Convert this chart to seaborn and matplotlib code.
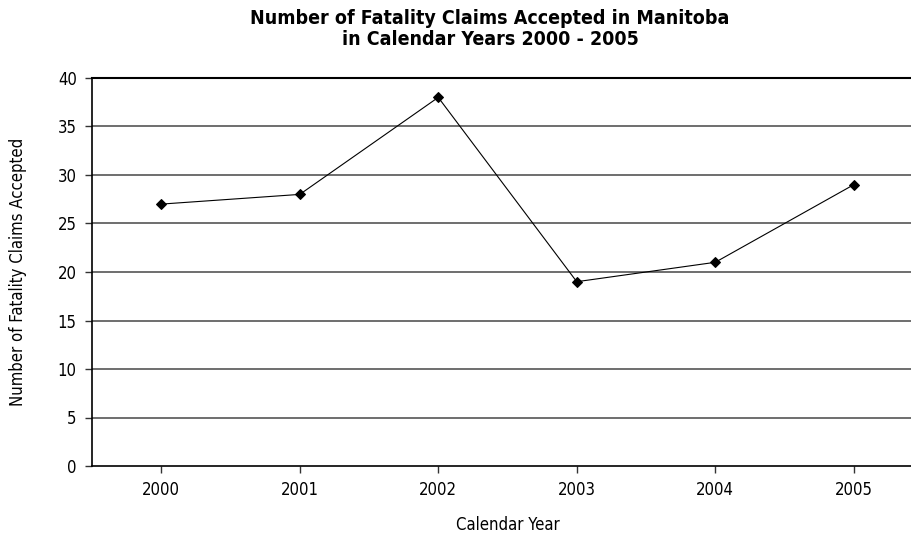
import seaborn as sns
import pandas as pd
import matplotlib.pyplot as plt

# data
years = ["2000", "2001", "2002", "2003", "2004", "2005"]
claims = [27, 28, 38, 19, 21, 29]

df = pd.DataFrame({"Year": years, "Claims": claims})

sns.set_style("white")
plt.rcParams["font.family"] = ["DejaVu Sans"]
plt.rcParams["font.stretch"] = "condensed"
plt.rcParams["text.color"] = "black"
plt.rcParams["axes.labelcolor"] = "black"
plt.rcParams["xtick.color"] = "black"
plt.rcParams["ytick.color"] = "black"

fig = plt.figure(figsize=(9.12, 5.38), dpi=100)
ax = fig.add_axes([92 / 912, 1 - 466 / 538, 831 / 912, 388 / 538])

ax.set_ylim(0, 40)
ax.set_xlim(-0.5, 5.5)
ax.set_yticks(range(0, 41, 5))
for y in range(5, 40, 5):
    ax.axhline(y, color="#555555", lw=1.2, zorder=0)

sns.lineplot(data=df, x="Year", y="Claims", ax=ax, color="black", lw=0.8,
             marker="D", markersize=5, markeredgecolor="black", sort=False)

for s in ["left", "bottom", "top"]:
    ax.spines[s].set_visible(True)
    ax.spines[s].set_color("black")
ax.spines["top"].set_linewidth(1.5)
ax.spines["left"].set_linewidth(1.2)
ax.spines["bottom"].set_linewidth(1.2)
ax.spines["right"].set_visible(False)

ax.tick_params(axis="both", direction="out", length=5, width=1, color="#333333",
               labelsize=12, bottom=True, left=True, pad=6)
ax.set_xlabel("Calendar Year", fontsize=12, labelpad=12)
ax.set_ylabel("Number of Fatality Claims Accepted", fontsize=12, labelpad=22)
fig.suptitle("Number of Fatality Claims Accepted in Manitoba\nin Calendar Years 2000 - 2005",
             x=490 / 912, y=0.983, fontsize=14, fontweight="bold", linespacing=1.1)

fig.savefig("out.png", dpi=100)
